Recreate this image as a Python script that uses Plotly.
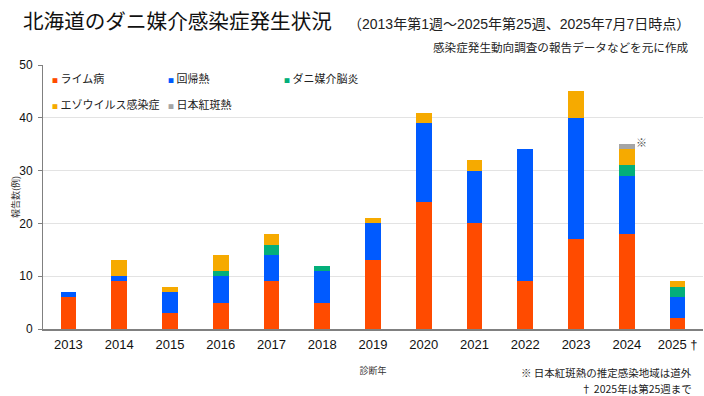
import plotly.graph_objects as go

years = [2013, 2014, 2015, 2016, 2017, 2018, 2019,
         2020, 2021, 2022, 2023, 2024, 2025]
tick_labels = ["2013", "2014", "2015", "2016", "2017", "2018", "2019",
               "2020", "2021", "2022", "2023", "2024", "2025 \u2020"]

lyme = [6, 9, 3, 5, 9, 5, 13, 24, 20, 9, 17, 18, 2]
relapsing = [1, 1, 4, 5, 5, 6, 7, 15, 10, 25, 23, 11, 4]
tbe = [0, 0, 0, 1, 2, 1, 0, 0, 0, 0, 0, 2, 2]
ezo = [0, 3, 1, 3, 2, 0, 1, 2, 2, 0, 5, 3, 1]
jsf = [0, 0, 0, 0, 0, 0, 0, 0, 0, 0, 0, 1, 0]

series_names = ["ライム病", "回帰熱", "ダニ媒介脳炎", "エゾウイルス感染症", "日本紅斑熱"]
series_values = [lyme, relapsing, tbe, ezo, jsf]
series_colors = ["#FF4B00", "#005AFF", "#03AF7A", "#F6AA00", "#A5A5A5"]

FONT = "Liberation Sans, Noto Sans CJK JP, sans-serif"
JFONT = "Noto Sans CJK JP, sans-serif"

L, R, T, B = 43, 1, 65, 67
W, H = 704, 396
PW, PH = W - L - R, H - T - B

fig = go.Figure()
for name, vals, col in zip(series_names, series_values, series_colors):
    fig.add_trace(go.Bar(x=years, y=vals, name=name, marker_color=col,
                         marker_line_width=0, width=0.31, showlegend=False))

fig.update_layout(
    barmode="stack",
    width=W, height=H,
    margin=dict(l=L, r=R, t=T, b=B, autoexpand=False),
    paper_bgcolor="white", plot_bgcolor="white",
    font=dict(family=FONT, color="#000000"),
    xaxis=dict(
        range=[years[0] - 0.5, years[-1] + 0.5],
        tickvals=years, ticktext=tick_labels,
        tickfont=dict(size=13, color="#111111", family=FONT),
        showline=True, linecolor="#808080", linewidth=1.5,
        ticks="", showgrid=False, zeroline=False, ticklabelstandoff=3,
        title=dict(text="診断年", font=dict(size=9, family=JFONT, color="#333333"), standoff=16),
    ),
    yaxis=dict(
        range=[0, 50], tickvals=[0, 10, 20, 30, 40, 50],
        tickfont=dict(size=12, color="#111111", family=FONT),
        showline=True, linecolor="#808080", linewidth=1,
        ticks="outside", ticklen=4, tickcolor="#808080",
        showgrid=True, gridcolor="#E3E3E3", gridwidth=1,
        zeroline=False, ticklabelstandoff=3,
    ),
)


def px_x(p):
    return (p - L) / PW


def px_y(p):
    return (H - B - p) / PH


# Y-axis title
fig.add_annotation(text="報告数(例)", xref="paper", yref="paper",
                   x=px_x(15), y=0.5, xanchor="center", yanchor="middle",
                   textangle=-90, showarrow=False,
                   font=dict(size=9, family=JFONT, color="#333333"))

# Title and subtitle
fig.add_annotation(text="北海道のダニ媒介感染症発生状況", xref="paper", yref="paper",
                   x=px_x(21), y=px_y(20), xanchor="left", yanchor="middle",
                   showarrow=False, font=dict(size=20.6, family=JFONT, color="#111111"))
fig.add_annotation(text="（2013年第1週～2025年第25週、2025年7月7日時点）", xref="paper", yref="paper",
                   x=px_x(692), y=px_y(24), xanchor="right", yanchor="middle",
                   showarrow=False, font=dict(size=14, family=FONT, color="#222222"))
fig.add_annotation(text="感染症発生動向調査の報告データなどを元に作成", xref="paper", yref="paper",
                   x=px_x(690), y=px_y(47), xanchor="right", yanchor="middle",
                   showarrow=False, font=dict(size=11.6, family=JFONT, color="#222222"))

# Legend (as text)
legend_pos = [(50, 78), (166, 78), (282, 78), (50, 104), (166, 104)]
for name, col, (lx, ly) in zip(series_names, series_colors, legend_pos):
    fig.add_annotation(
        text=f"<span style='font-size:6px;color:{col}'>■</span> {name}",
        xref="paper", yref="paper", x=px_x(lx), y=px_y(ly),
        xanchor="left", yanchor="middle", showarrow=False,
        font=dict(size=11, family=JFONT, color="#222222"))

# Marker note for 2024
totals = [sum(v) for v in zip(*series_values)]
fig.add_annotation(text="※", x=years[11], y=totals[11], xref="x", yref="y",
                   xanchor="left", yanchor="middle", xshift=7, yshift=2,
                   showarrow=False, font=dict(size=11, family=JFONT, color="#555555"))

# Footnotes
fig.add_annotation(text="※ 日本紅斑熱の推定感染地域は道外", xref="paper", yref="paper",
                   x=px_x(694), y=px_y(372), xanchor="right", yanchor="middle",
                   showarrow=False, font=dict(size=10.5, family=JFONT, color="#222222"))
fig.add_annotation(text="† 2025年は第25週まで", xref="paper", yref="paper",
                   x=px_x(694), y=px_y(388), xanchor="right", yanchor="middle",
                   showarrow=False, font=dict(size=10.5, family=JFONT, color="#222222"))

fig.write_html("out.html", config={"displayModeBar": False},
               post_script="document.body.style.margin='0';")
